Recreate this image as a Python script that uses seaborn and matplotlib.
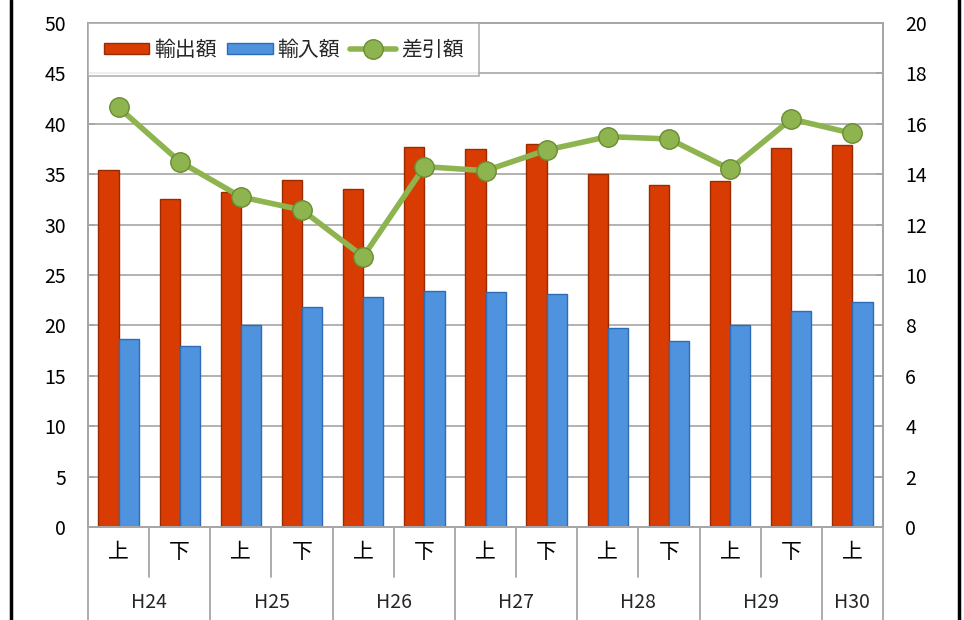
import numpy as np
import pandas as pd
import matplotlib
matplotlib.use('Agg')
import matplotlib.pyplot as plt
from matplotlib.lines import Line2D
from matplotlib.patches import Patch
import seaborn as sns

# data
periods = ['H24上', 'H24下', 'H25上', 'H25下', 'H26上', 'H26下', 'H27上',
           'H27下', 'H28上', 'H28下', 'H29上', 'H29下', 'H30上']
halves = ['上', '下'] * 6 + ['上']
years = ['H24', 'H25', 'H26', 'H27', 'H28', 'H29', 'H30']
exports = [35.4, 32.5, 33.2, 34.4, 33.5, 37.7, 37.5, 38.0, 35.0, 33.9, 34.3, 37.55, 37.9]
imports = [18.7, 17.95, 20.0, 21.8, 22.85, 23.4, 23.3, 23.1, 19.7, 18.5, 20.0, 21.4, 22.35]
balance = [16.65, 14.5, 13.1, 12.58, 10.73, 14.3, 14.14, 14.96, 15.49, 15.4, 14.2, 16.19, 15.62]

red, red_edge = '#D93C02', '#9A2A00'
blue, blue_edge = '#4F93DE', '#2F6CB5'
green, green_edge = '#8DB44E', '#6A8C34'
gray = '#A6A6A6'

df = pd.DataFrame({
    'period': periods * 2,
    'value': exports + imports,
    'series': ['輸出額'] * len(periods) + ['輸入額'] * len(periods),
})

sns.set_theme(style='white')
plt.rcParams['font.family'] = ['Noto Sans CJK JP', 'DejaVu Sans']

fig = plt.figure(figsize=(9.64, 6.2), dpi=100)
ax = fig.add_axes([88 / 964, 93 / 620, 795 / 964, 504 / 620])

sns.barplot(data=df, x='period', y='value', hue='series', order=periods,
            hue_order=['輸出額', '輸入額'], palette=[red, blue], width=0.66,
            ax=ax, legend=False, saturation=1)
for cont, ec in zip(ax.containers, [red_edge, blue_edge]):
    for p in cont:
        p.set_edgecolor(ec)
        p.set_linewidth(1.0)

ax2 = ax.twinx()
sns.pointplot(x=periods, y=balance, order=periods, ax=ax2, color=green,
              markers='o', markersize=14, linewidth=4,
              markeredgecolor=green_edge, markeredgewidth=1)

# axes styling
ax.set_ylim(0, 50)
ax.set_yticks(np.arange(0, 51, 5))
ax2.set_ylim(0, 20)
ax2.set_yticks(np.arange(0, 21, 2))
ax.set_xlim(-0.5, 12.5)
ax.set_xticks(range(len(periods)))
ax.set_xticklabels(halves)
ax.set_xlabel('')
ax.set_ylabel('')
ax2.set_xlabel('')
ax2.set_ylabel('')
ax.yaxis.grid(True, color=gray, linewidth=1.2)
ax.set_axisbelow(True)

for a in (ax, ax2):
    for s in a.spines.values():
        s.set_color(gray)
        s.set_linewidth(1.3)
    a.tick_params(axis='y', direction='in', length=5, color=gray, pad=16,
                  labelsize=14, labelcolor='black')
ax.tick_params(axis='x', length=0, pad=10, labelsize=15, labelcolor='black')

# two-level category axis
trans = ax.get_xaxis_transform()
for k in range(len(periods) + 1):
    xb = k - 0.5
    short = (k % 2 == 1) and k < len(periods)
    y_end = -50 / 504 if short else -93 / 504
    ax.add_artist(Line2D([xb, xb], [0, y_end], color=gray, lw=1.3,
                         transform=trans, clip_on=False))
for i, yr in enumerate(years):
    xc = 2 * i + 0.5 if i < len(years) - 1 else 2 * i
    ax.text(xc, -76 / 504, yr, transform=trans, ha='center', va='center',
            fontsize=14)

# legend
handles = [Patch(facecolor=red, edgecolor=red_edge),
           Patch(facecolor=blue, edgecolor=blue_edge),
           Line2D([], [], color=green, lw=4, marker='o', markersize=14,
                  markeredgecolor=green_edge)]
leg = ax2.legend(handles, ['輸出額', '輸入額', '差引額'], loc='upper left',
                 bbox_to_anchor=(0, 1), ncol=3, frameon=True, fancybox=False,
                 edgecolor=gray, borderaxespad=0, fontsize=15,
                 handlelength=2.2, handletextpad=0.25, columnspacing=0.45,
                 handleheight=0.45, borderpad=0.75)
leg.get_frame().set_linewidth(1.3)

# black side borders
for xf in (11 / 964, 959 / 964):
    fig.add_artist(Line2D([xf, xf], [0, 1], color='black', lw=2.5,
                          transform=fig.transFigure))

fig.savefig('out.png', dpi=100)
